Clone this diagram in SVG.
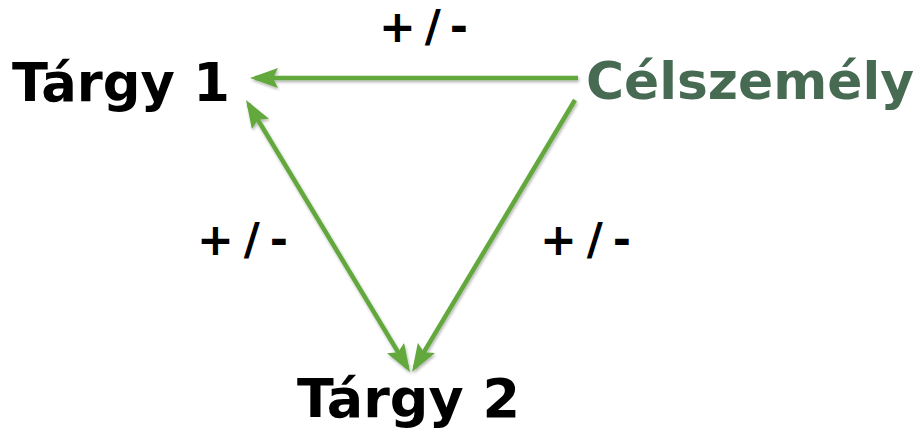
<svg xmlns="http://www.w3.org/2000/svg" width="922" height="432" viewBox="0 0 922 432">
  <style>
    .lbl { font-family: "DejaVu Sans", Verdana, sans-serif; font-weight: bold; fill: #000; }
    .big { font-size: 54px; }
    .name { font-size: 52px; }
    .sign { font-size: 44px; }
    .green { fill: #466A52; }
    .conn { stroke: #62A83C; stroke-width: 4.5; fill: none; }
  </style>
  <defs>
    <marker id="ah" viewBox="0 0 28 20" refX="23" refY="10" markerWidth="28" markerHeight="20" markerUnits="userSpaceOnUse" orient="auto-start-reverse">
      <path d="M0,0 L28,10 L0,20 L5,10 Z" fill="#62A83C"/>
    </marker>
    <filter id="sh" x="-10%" y="-10%" width="120%" height="120%">
      <feGaussianBlur in="SourceAlpha" stdDeviation="1.5"/>
      <feOffset dx="1" dy="2" result="b"/>
      <feComponentTransfer><feFuncA type="linear" slope="0.3"/></feComponentTransfer>
      <feMerge><feMergeNode/><feMergeNode in="SourceGraphic"/></feMerge>
    </filter>
  </defs>

  <g id="connectors" filter="url(#sh)">
    <line class="conn" x1="578" y1="78" x2="255" y2="78" marker-end="url(#ah)"/>
    <line class="conn" x1="248.6" y1="104.3" x2="407.4" y2="367.7" marker-start="url(#ah)" marker-end="url(#ah)"/>
    <line class="conn" x1="575" y1="100" x2="414.6" y2="367.7" marker-end="url(#ah)"/>
  </g>

  <g id="targy1">
    <text class="lbl big" x="12" y="101" textLength="218" lengthAdjust="spacingAndGlyphs">Tárgy 1</text>
  </g>
  <g id="celszemely">
    <text class="lbl name green" x="586" y="99" textLength="328" lengthAdjust="spacingAndGlyphs">Célszemély</text>
  </g>
  <g id="targy2">
    <text class="lbl big" x="297" y="417" textLength="223" lengthAdjust="spacingAndGlyphs">Tárgy 2</text>
  </g>

  <g id="labels">
    <text class="lbl sign" x="379" y="42" textLength="89" lengthAdjust="spacing">+/-</text>
    <text class="lbl sign" x="197" y="255" textLength="91" lengthAdjust="spacing">+/-</text>
    <text class="lbl sign" x="540" y="255" textLength="91" lengthAdjust="spacing">+/-</text>
  </g>
</svg>
